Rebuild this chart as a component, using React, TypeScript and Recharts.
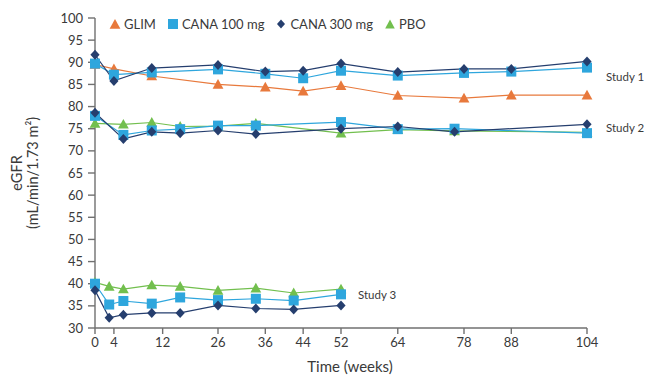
import React from 'react';
import { LineChart, Line, XAxis, YAxis, ReferenceDot, Label } from 'recharts';

// ---- data ----
const weeksS1 = [0, 4, 12, 26, 36, 44, 52, 64, 78, 88, 104];
const s1Glim = [89.5, 88.5, 86.9, 85.0, 84.4, 83.5, 84.7, 82.5, 81.9, 82.6, 82.6];
const s1Cana100 = [89.7, 87.2, 87.7, 88.4, 87.4, 86.4, 88.1, 87.0, 87.6, 87.9, 88.8];
const s1Cana300 = [91.7, 85.8, 88.7, 89.4, 87.9, 88.1, 89.7, 87.8, 88.5, 88.5, 90.2];

const weeksS2 = [0, 6, 12, 18, 26, 34, 52, 64, 76, 104];
const s2Cana100 = [77.9, 73.6, 74.6, 74.9, 75.7, 75.7, 76.5, 74.9, 75.0, 74.0];
const s2Cana300 = [78.6, 72.7, 74.3, 74.0, 74.6, 73.8, 75.0, 75.5, 74.3, 76.0];
const s2Pbo = [76.2, 76.0, 76.4, 75.5, 75.6, 76.2, 74.0, 74.8, 74.5, 74.2];

const weeksS3 = [0, 3, 6, 12, 18, 26, 34, 42, 52];
const s3Cana100 = [40.0, 35.3, 36.1, 35.5, 36.9, 36.3, 36.6, 36.2, 37.6];
const s3Cana300 = [38.5, 32.3, 33.0, 33.4, 33.4, 35.1, 34.4, 34.2, 35.1];
const s3Pbo = [40.3, 39.4, 38.8, 39.7, 39.4, 38.5, 39.0, 37.9, 38.8];

const xTickValues = [0, 4, 14.3, 26, 36, 44, 52, 64, 78, 88, 104];
const xTickLabels = ['0', '4', '12', '26', '36', '44', '52', '64', '78', '88', '104'];
const yTicks = [30, 35, 40, 45, 50, 55, 60, 65, 70, 75, 80, 85, 90, 95, 100];

const legendNames = ['GLIM', 'CANA 100 mg', 'CANA 300 mg', 'PBO'];
const studyLabels = ['Study 1', 'Study 2', 'Study 3'];

const COLORS = {
  glim: '#E8793C',
  cana100: '#2EA6DD',
  cana300: '#253E6E',
  pbo: '#72BF4E',
};

const FONT = 'Lato, "Open Sans", sans-serif';
const TEXT = '#3a3a3a';

const toRows = (weeks: number[], vals: number[]) => weeks.map((w, i) => ({ week: w, v: vals[i] }));

// ---- marker shapes ----
const triangleDot = (color: string) => (props: any) => {
  const { cx, cy, index } = props;
  if (cx == null || cy == null) return <g key={`t${index}`} />;
  const s = 5.4;
  return (
    <path
      key={`t${index}`}
      d={`M${cx},${cy - s} L${cx + s},${cy + s * 0.8} L${cx - s},${cy + s * 0.8} Z`}
      fill={color}
    />
  );
};
const squareDot = (color: string) => (props: any) => {
  const { cx, cy, index } = props;
  if (cx == null || cy == null) return <g key={`s${index}`} />;
  const s = 5;
  return <rect key={`s${index}`} x={cx - s} y={cy - s} width={2 * s} height={2 * s} fill={color} />;
};
const diamondDot = (color: string) => (props: any) => {
  const { cx, cy, index } = props;
  if (cx == null || cy == null) return <g key={`d${index}`} />;
  const w = 4.6;
  const h = 5;
  return (
    <path key={`d${index}`} d={`M${cx},${cy - h} L${cx + w},${cy} L${cx},${cy + h} L${cx - w},${cy} Z`} fill={color} />
  );
};

const legendIcons = [
  (c: string) => <path d="M6,1 L11.4,10.7 L0.6,10.7 Z" fill={c} />,
  (c: string) => <rect x={1} y={1} width={10} height={10} fill={c} />,
  (c: string) => <path d="M6,1.5 L10,6 L6,10.5 L2,6 Z" fill={c} />,
  (c: string) => <path d="M6,1.5 L10.8,10.5 L1.2,10.5 Z" fill={c} />,
];
const legendColors = [COLORS.glim, COLORS.cana100, COLORS.cana300, COLORS.pbo];

const LegendBox = () => (
  <div
    style={{
      position: 'absolute',
      left: 109,
      top: 15,
      display: 'flex',
      alignItems: 'center',
      fontFamily: FONT,
      fontSize: 13,
      color: TEXT,
      whiteSpace: 'nowrap',
      lineHeight: '18px',
    }}
  >
    {legendNames.map((n, i) => (
      <div key={n} style={{ display: 'flex', alignItems: 'center', marginRight: 11 }}>
        <svg width={12} height={12} style={{ marginRight: 3 }}>
          {legendIcons[i](legendColors[i])}
        </svg>
        <span>{n}</span>
      </div>
    ))}
  </div>
);

const YLabel = () => {
  const cy = 173;
  return (
    <g fontFamily={FONT} fontSize={14.5} fill={TEXT}>
      <text x={16} y={cy} transform={`rotate(-90 16 ${cy})`} textAnchor="middle" dominantBaseline="central">
        eGFR
      </text>
      <text x={32} y={cy} transform={`rotate(-90 32 ${cy})`} textAnchor="middle" dominantBaseline="central">
        (mL/min/1.73 m²)
      </text>
    </g>
  );
};

const XLabel = (props: any) => {
  const vb = props.viewBox || { x: 95, y: 328, width: 492, height: 48 };
  return (
    <text
      x={vb.x + vb.width / 2 + 9}
      y={366}
      textAnchor="middle"
      dominantBaseline="central"
      fontFamily={FONT}
      fontSize={15}
      fill={TEXT}
    >
      Time (weeks)
    </text>
  );
};

const series = [
  { id: 's1g', data: toRows(weeksS1, s1Glim), color: COLORS.glim, dot: triangleDot(COLORS.glim) },
  { id: 's1c1', data: toRows(weeksS1, s1Cana100), color: COLORS.cana100, dot: squareDot(COLORS.cana100) },
  { id: 's1c3', data: toRows(weeksS1, s1Cana300), color: COLORS.cana300, dot: diamondDot(COLORS.cana300) },
  { id: 's2p', data: toRows(weeksS2, s2Pbo), color: COLORS.pbo, dot: triangleDot(COLORS.pbo) },
  { id: 's2c1', data: toRows(weeksS2, s2Cana100), color: COLORS.cana100, dot: squareDot(COLORS.cana100) },
  { id: 's2c3', data: toRows(weeksS2, s2Cana300), color: COLORS.cana300, dot: diamondDot(COLORS.cana300) },
  { id: 's3p', data: toRows(weeksS3, s3Pbo), color: COLORS.pbo, dot: triangleDot(COLORS.pbo) },
  { id: 's3c1', data: toRows(weeksS3, s3Cana100), color: COLORS.cana100, dot: squareDot(COLORS.cana100) },
  { id: 's3c3', data: toRows(weeksS3, s3Cana300), color: COLORS.cana300, dot: diamondDot(COLORS.cana300) },
];

const studyLabelStyle = { fill: TEXT, fontSize: 11.5, fontFamily: FONT };

export default function App() {
  return (
    <div style={{ position: 'absolute', left: 0, top: 0, width: 646, height: 376, background: '#fff' }}>
      <LineChart width={646} height={376} margin={{ top: 18, right: 59, bottom: 0, left: 0 }}>
        <XAxis
          dataKey="week"
          type="number"
          domain={[0, 104]}
          ticks={xTickValues}
          tickFormatter={(v: number, i: number) => xTickLabels[i] ?? String(v)}
          allowDuplicatedCategory={false}
          height={48}
          stroke="#707070"
          strokeWidth={1.4}
          tickSize={6}
          tickMargin={4}
          tick={{ fill: TEXT, fontSize: 13, fontFamily: FONT }}
          interval={0}
          label={<Label content={<XLabel />} />}
        />
        <YAxis
          type="number"
          domain={[30, 100]}
          ticks={yTicks}
          width={95}
          stroke="#707070"
          strokeWidth={1.4}
          tickSize={7}
          tickMargin={5}
          tick={{ fill: TEXT, fontSize: 13, fontFamily: FONT }}
          interval={0}
          label={<Label content={<YLabel />} />}
        />
        {series.map((s) => (
          <Line
            key={s.id}
            data={s.data}
            dataKey="v"
            type="linear"
            stroke={s.color}
            strokeWidth={1.2}
            dot={s.dot}
            activeDot={false}
            isAnimationActive={false}
            legendType="none"
          />
        ))}
        <ReferenceDot
          x={104}
          y={86.7}
          r={0}
          ifOverflow="visible"
          label={{ value: studyLabels[0], position: 'right', offset: 19, ...studyLabelStyle }}
        />
        <ReferenceDot
          x={104}
          y={75.2}
          r={0}
          ifOverflow="visible"
          label={{ value: studyLabels[1], position: 'right', offset: 19, ...studyLabelStyle }}
        />
        <ReferenceDot
          x={52}
          y={37.4}
          r={0}
          ifOverflow="visible"
          label={{ value: studyLabels[2], position: 'right', offset: 17, ...studyLabelStyle }}
        />
      </LineChart>
      <LegendBox />
    </div>
  );
}
